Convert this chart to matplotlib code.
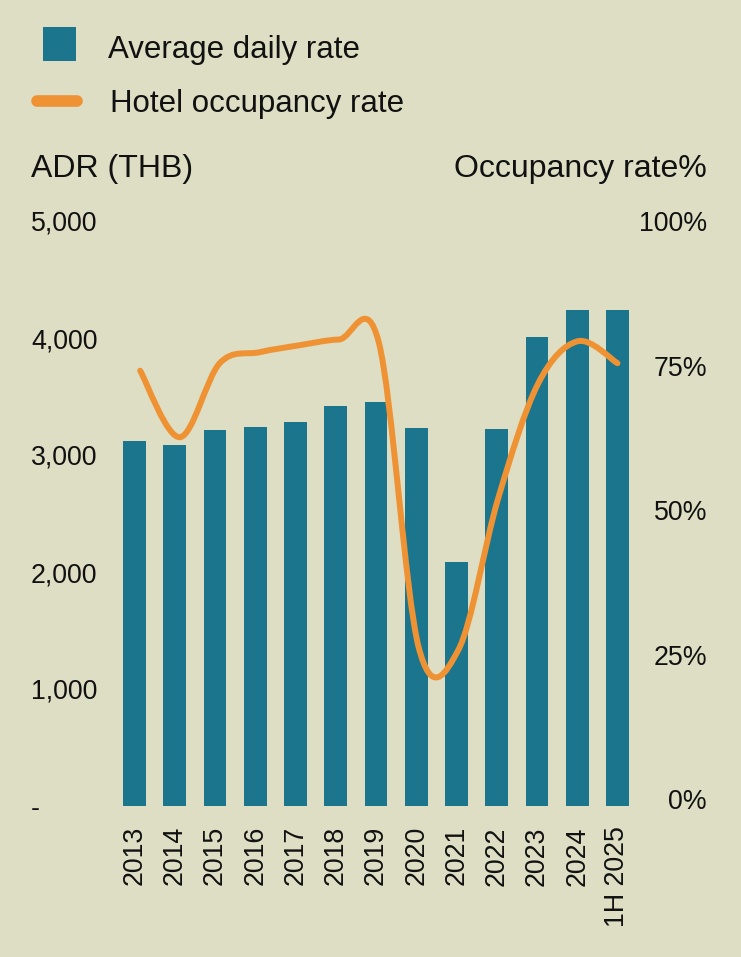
import numpy as np
import matplotlib
matplotlib.use("Agg")
import matplotlib.pyplot as plt
from matplotlib.path import Path
from matplotlib.patches import PathPatch, Rectangle
from matplotlib.lines import Line2D

# ---------------- data ----------------
categories = ["2013", "2014", "2015", "2016", "2017", "2018", "2019",
              "2020", "2021", "2022", "2023", "2024", "1H 2025"]
adr_thb = [3122, 3083, 3214, 3242, 3285, 3421, 3450, 3233, 2088, 3220, 4011, 4239, 4239]
occupancy_pct = [74.1, 62.6, 75.4, 77.3, 78.5, 79.5, 79.0, 26.3, 25.8, 52.0, 71.8, 79.2, 75.4]

adr_ticks = [0, 1000, 2000, 3000, 4000, 5000]
adr_tick_labels = ["-", "1,000", "2,000", "3,000", "4,000", "5,000"]
occ_ticks = [0, 25, 50, 75, 100]
occ_tick_labels = ["0%", "25%", "50%", "75%", "100%"]

series_labels = ["Average daily rate", "Hotel occupancy rate"]
left_title = "ADR (THB)"
right_title = "Occupancy rate%"

# ---------------- style ----------------
BG = "#DEDEC4"
TEAL = "#1B758D"
ORANGE = "#EE9233"
TXT = "#111111"
W, H = 741, 957

plt.rcParams['font.family'] = ['Liberation Sans', 'DejaVu Sans']

fig = plt.figure(figsize=(W / 100, H / 100), dpi=100, facecolor=BG)
ax = fig.add_axes([114.4 / W, 1 - 806 / H, 523.2 / W, 585 / H])
ax.set_facecolor('none')

x = np.arange(len(categories))
ax.bar(x, adr_thb, width=0.57, color=TEAL, zorder=2)
ax.set_xlim(-0.5, len(categories) - 0.5)
ax.set_ylim(0, 5000)
ax.set_yticks(adr_ticks)
ax.set_yticklabels(adr_tick_labels, fontsize=19.3, color=TXT)
for lab in ax.get_yticklabels():
    lab.set_horizontalalignment('left')
ax.tick_params(axis='y', length=0, pad=60)
ax.set_xticks(x)
ax.set_xticklabels(categories, rotation=90, fontsize=19.3, color=TXT)
ax.tick_params(axis='x', length=0, pad=14.5)
for s in ax.spines.values():
    s.set_visible(False)

ax2 = ax.twinx()
ax2.set_ylim(-1.2, 100)
ax2.set_yticks(occ_ticks)
ax2.set_yticklabels(occ_tick_labels, fontsize=19.3, color=TXT)
for lab in ax2.get_yticklabels():
    lab.set_horizontalalignment('right')
ax2.tick_params(axis='y', length=0, pad=50)
for s in ax2.spines.values():
    s.set_visible(False)

# smoothed occupancy line (Catmull-Rom as cubic Bezier path)
n = len(occupancy_pct)
xl = np.linspace(0.14, n - 1.0, n)
pts = np.column_stack([xl, np.asarray(occupancy_pct, dtype=float)])
ext = np.vstack([pts[0], pts, pts[-1]])
verts = [tuple(pts[0])]
codes = [Path.MOVETO]
for i in range(n - 1):
    p0, p1, p2, p3 = ext[i], ext[i + 1], ext[i + 2], ext[i + 3]
    c1 = p1 + (p2 - p0) / 6.0
    c2 = p2 - (p3 - p1) / 6.0
    verts += [tuple(c1), tuple(c2), tuple(p2)]
    codes += [Path.CURVE4] * 3
patch = PathPatch(Path(verts, codes), facecolor='none', edgecolor=ORANGE,
                  lw=4.3, capstyle='round', joinstyle='round', zorder=3)
ax2.add_patch(patch)

# ---------------- legend (manual) ----------------
fig.patches.append(Rectangle((42.7 / W, 1 - 60.7 / H), 33.3 / W, 33.4 / H,
                             transform=fig.transFigure, facecolor=TEAL,
                             edgecolor='none'))
fig.lines.append(Line2D([36.6 / W, 76.8 / W], [1 - 101 / H, 1 - 101 / H],
                        transform=fig.transFigure, color=ORANGE, lw=8.4,
                        solid_capstyle='round'))
fig.text(107.7 / W, 1 - 58.3 / H, series_labels[0], fontsize=22.5, color=TXT,
         ha='left', va='baseline')
fig.text(109.5 / W, 1 - 111.7 / H, series_labels[1], fontsize=22.5, color=TXT,
         ha='left', va='baseline')

# axis titles
fig.text(31 / W, 1 - 176.7 / H, left_title, fontsize=23, color=TXT,
         ha='left', va='baseline')
fig.text(707 / W, 1 - 176.7 / H, right_title, fontsize=23, color=TXT,
         ha='right', va='baseline')

fig.savefig('out.png', dpi=100, facecolor=BG)
